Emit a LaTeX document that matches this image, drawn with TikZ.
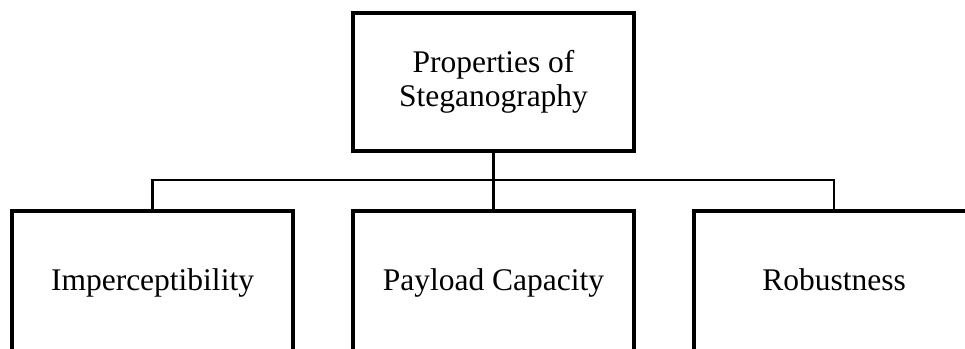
\documentclass[tikz,border=0pt]{standalone}
\usepackage{fontspec}
\setmainfont{Liberation Serif}
\begin{document}
\begin{tikzpicture}[x=1pt,y=-1pt,
  box/.style={draw,line width=4pt,rectangle,inner sep=0pt,align=center,
    font=\fontsize{31.5}{33.5}\selectfont},
  leaf/.style={box,minimum width=281pt,minimum height=143pt,
    text height=22pt,text depth=7pt},
  conn/.style={line width=2.5pt}]
  \useasboundingbox[fill=white] (0,0) rectangle (965,348);
  \clip (0,0) rectangle (965,348);
  % root node
  \node[box,minimum width=281.5pt,minimum height=138.5pt] (root) at (493.5,82)
    {Properties of\\Steganography};
  % three child nodes, running past the lower edge
  \node[leaf] (imp) at (152.5,282.5) {Imperceptibility};
  \node[leaf] (pay) at (493.5,282.5) {Payload Capacity};
  \node[leaf] (rob) at (834,282.5) {Robustness};
  % bus connectors
  \coordinate (bus) at (493.5,180);
  \draw[conn] (root.south) -- (bus);
  \draw[conn] (imp.north) |- (bus) -| (rob.north);
  \draw[conn] (pay.north) -- (bus);
\end{tikzpicture}
\end{document}
